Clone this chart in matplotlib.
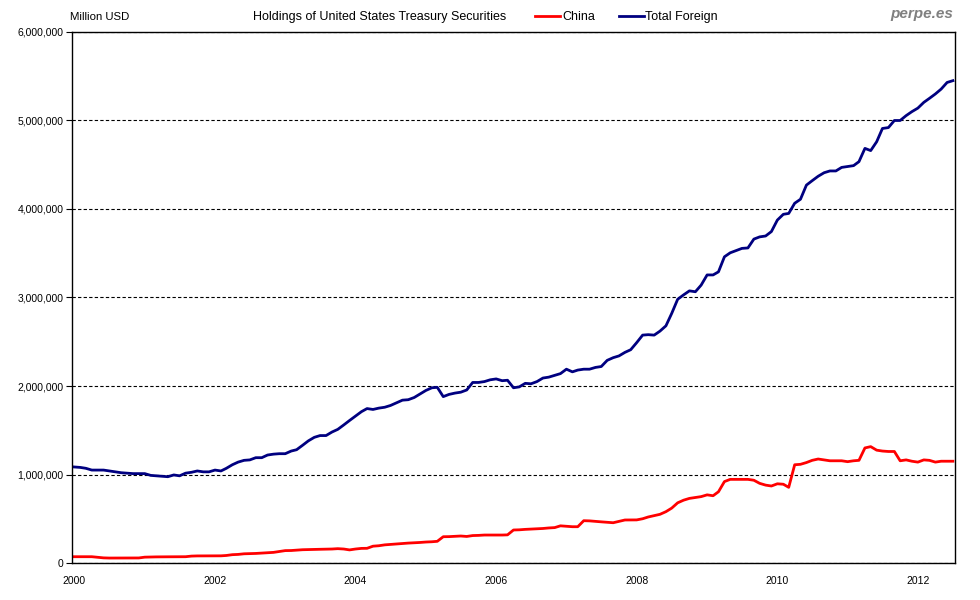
import numpy as np
import pandas as pd
import matplotlib
matplotlib.use("Agg")
import matplotlib.pyplot as plt
import matplotlib.dates as mdates
from matplotlib.ticker import FuncFormatter

# monthly values, million USD (in millions of millions)
total_foreign = [
    1.085, 1.08, 1.07, 1.05, 1.05, 1.05, 1.04, 1.03, 1.02, 1.015, 1.01, 1.01,
    1.01, 0.99, 0.985, 0.98, 0.975, 0.995, 0.985, 1.015, 1.025, 1.04, 1.03, 1.03,
    1.05, 1.04, 1.07, 1.11, 1.14, 1.16, 1.165, 1.19, 1.19, 1.22, 1.23, 1.235,
    1.235, 1.265, 1.28, 1.33, 1.38, 1.42, 1.44, 1.44, 1.48, 1.51, 1.56, 1.61,
    1.66, 1.71, 1.745, 1.735, 1.75, 1.76, 1.78, 1.81, 1.84, 1.845, 1.87, 1.91,
    1.95, 1.98, 1.985, 1.88, 1.905, 1.92, 1.93, 1.955, 2.04, 2.04, 2.05, 2.07,
    2.08, 2.06, 2.065, 1.98, 1.99, 2.03, 2.025, 2.05, 2.09, 2.10, 2.12, 2.14,
    2.19, 2.16, 2.18, 2.19, 2.19, 2.21, 2.22, 2.29, 2.32, 2.34, 2.38, 2.41,
    2.49, 2.575, 2.58, 2.575, 2.62, 2.68, 2.82, 2.98, 3.03, 3.075, 3.065, 3.14,
    3.255, 3.255, 3.29, 3.46, 3.505, 3.53, 3.555, 3.56, 3.66, 3.685, 3.695, 3.745,
    3.875, 3.94, 3.95, 4.065, 4.11, 4.27, 4.32, 4.37, 4.41, 4.43, 4.43, 4.47,
    4.48, 4.49, 4.535, 4.685, 4.66, 4.76, 4.91, 4.92, 5.0, 5.0, 5.055, 5.10,
    5.14, 5.205, 5.25, 5.30, 5.355, 5.43, 5.45,
]

china = [
    0.071, 0.071, 0.071, 0.071, 0.065, 0.058, 0.056, 0.056, 0.056, 0.056, 0.056, 0.057,
    0.066, 0.068, 0.069, 0.07, 0.07, 0.07, 0.07, 0.071, 0.078, 0.08, 0.08, 0.08,
    0.08, 0.081, 0.085, 0.094, 0.097, 0.104, 0.106, 0.108, 0.112, 0.117, 0.12, 0.13,
    0.14, 0.141, 0.145, 0.15, 0.152, 0.155, 0.155, 0.156, 0.158, 0.162, 0.158, 0.148,
    0.158, 0.165, 0.166, 0.19, 0.195, 0.205, 0.21, 0.215, 0.22, 0.225, 0.228, 0.232,
    0.237, 0.24, 0.245, 0.297, 0.298, 0.302, 0.305, 0.30, 0.31, 0.312, 0.316, 0.316,
    0.316, 0.316, 0.318, 0.373, 0.375, 0.38, 0.383, 0.387, 0.39, 0.396, 0.40, 0.42,
    0.415, 0.41, 0.41, 0.478, 0.476, 0.47, 0.465, 0.46, 0.455, 0.47, 0.486, 0.487,
    0.487, 0.50, 0.52, 0.535, 0.55, 0.58, 0.62, 0.68, 0.71, 0.73, 0.74, 0.75,
    0.77, 0.76, 0.805, 0.92, 0.945, 0.945, 0.945, 0.945, 0.935, 0.90, 0.88, 0.87,
    0.895, 0.89, 0.855, 1.11, 1.115, 1.135, 1.16, 1.175, 1.165, 1.155, 1.155, 1.155,
    1.145, 1.155, 1.16, 1.30, 1.315, 1.275, 1.265, 1.26, 1.26, 1.155, 1.165, 1.15,
    1.14, 1.165, 1.16, 1.14, 1.15, 1.15, 1.15,
]

dates = pd.date_range("2000-01-01", periods=len(total_foreign), freq="MS")
tf = np.array(total_foreign) * 1e6
cn = np.array(china) * 1e6

plt.rcParams["font.family"] = ["Liberation Sans", "DejaVu Sans"]

fig = plt.figure(figsize=(9.8, 6), dpi=100)
ax = fig.add_axes([72 / 980, 1 - 563 / 600, (955 - 72) / 980, (563 - 32) / 600])

ax.plot(dates, cn, color="#ff0000", lw=2.0, label="China")
ax.plot(dates, tf, color="#000080", lw=2.0, label="Total Foreign")

ax.set_ylim(0, 6e6)
ax.set_yticks(np.arange(0, 6.1e6, 1e6))
ax.yaxis.set_major_formatter(FuncFormatter(lambda v, p: f"{int(v):,}"))
ax.set_xlim(pd.Timestamp("1999-12-20"), pd.Timestamp("2012-07-12"))
ax.xaxis.set_major_locator(mdates.YearLocator(2))
ax.xaxis.set_major_formatter(mdates.DateFormatter("%Y"))

ax.grid(axis="y", color="black", linestyle=(0, (3, 2)), lw=0.8)
ax.tick_params(axis="y", labelsize=7.5, length=4, direction="out", pad=2)
ax.tick_params(axis="x", labelsize=7.5, length=0, pad=9)
for s in ax.spines.values():
    s.set_linewidth(1.0)
    s.set_color("black")

fig.text(70 / 980, 1 - 17 / 600, "Million USD", fontsize=8.2, va="center", ha="left")
fig.text(380 / 980, 1 - 17 / 600, "Holdings of United States Treasury Securities",
         fontsize=9, va="center", ha="center")
fig.text(953 / 980, 1 - 14 / 600, "perpe.es", fontsize=11, va="center", ha="right",
         color="#808080", fontweight="bold", fontstyle="italic")
fig.legend(loc="center left", bbox_to_anchor=(535 / 980, 1 - 17 / 600), ncol=2,
           frameon=False, fontsize=9, handlelength=2.0, handletextpad=0.15,
           columnspacing=1.9, borderaxespad=0, borderpad=0)

fig.savefig("out.png", dpi=100)
